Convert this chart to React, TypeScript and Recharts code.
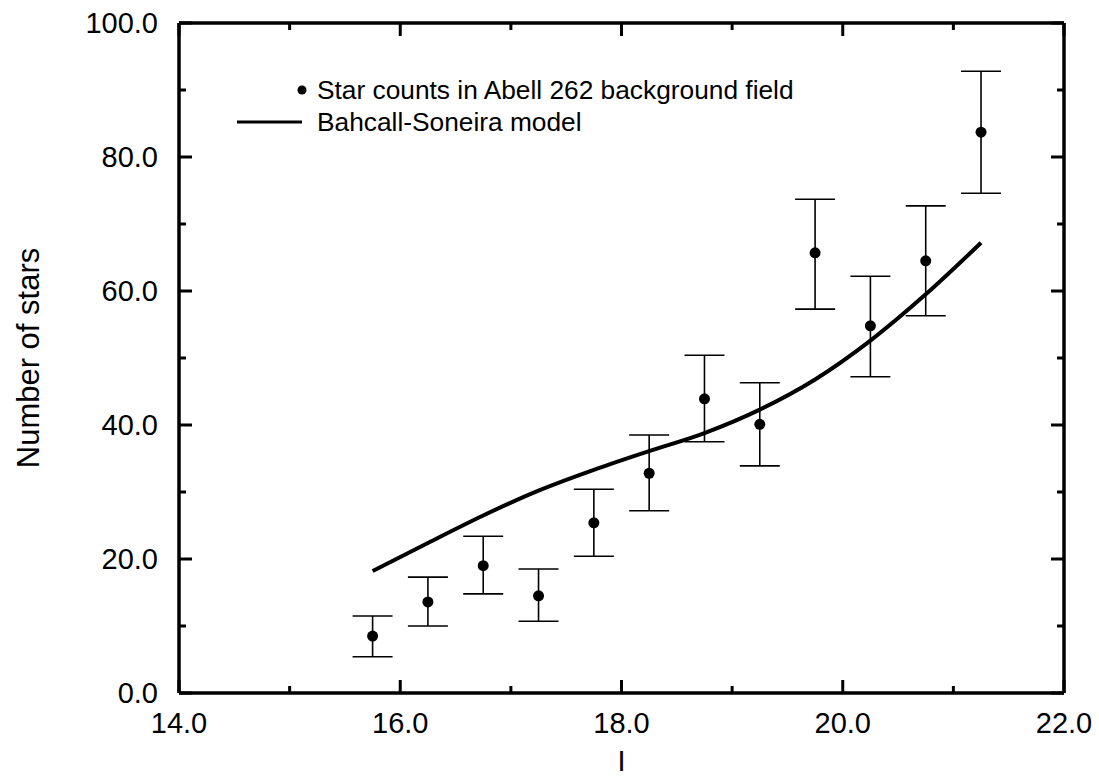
import React from "react";
import { ComposedChart, XAxis, YAxis, Scatter, Line, ErrorBar, Legend, Label } from "recharts";

const magnitudes = [15.75, 16.25, 16.75, 17.25, 17.75, 18.25, 18.75, 19.25, 19.75, 20.25, 20.75, 21.25];
const starCounts = [8.5, 13.6, 19.0, 14.5, 25.4, 32.8, 43.9, 40.1, 65.7, 54.8, 64.5, 83.7];
const countLow = [5.4, 10.0, 14.8, 10.7, 20.4, 27.2, 37.5, 33.9, 57.3, 47.2, 56.3, 74.6];
const countHigh = [11.5, 17.3, 23.4, 18.5, 30.4, 38.5, 50.4, 46.3, 73.7, 62.2, 72.7, 92.8];
const modelCounts = [18.2, 22.4, 26.5, 30.2, 33.3, 36.1, 38.8, 42.3, 46.8, 52.6, 59.5, 67.2];

const xTicks = [14, 15, 16, 17, 18, 19, 20, 21, 22];
const yTicks = [0, 10, 20, 30, 40, 50, 60, 70, 80, 90, 100];

const FONT = "'Liberation Sans', Arial, Helvetica, sans-serif";
const MAJOR = 13;
const MINOR = 7;

const stars = magnitudes.map(( mag, i ) => ({
    mag,
    count: starCounts[i],
    err: [ starCounts[i] - countLow[i], countHigh[i] - starCounts[i] ]
}));

const model = magnitudes.map(( mag, i ) => ({ mag, model: modelCounts[i] }));

// ticks point into the plot, labels only on the even values
const bottomTick = ( { x, y, payload } ) => {
    const major = payload.value % 2 === 0;
    return (
      <g>
          <line x1={x} x2={x} y1={y} y2={y - (major ? MAJOR : MINOR)} stroke="#000" strokeWidth={3}/>
          {major && (
            <text x={x} y={y + 30} textAnchor="middle" dominantBaseline="central" fontSize={29} fontFamily={FONT} fill="#000">
                {payload.value.toFixed(1)}
            </text>
          )}
      </g>
    );
};

const topTick = ( { x, y, payload } ) => {
    const major = payload.value % 2 === 0;
    return <line x1={x} x2={x} y1={y} y2={y + (major ? MAJOR : MINOR)} stroke="#000" strokeWidth={3}/>;
};

const leftTick = ( { x, y, payload } ) => {
    const major = payload.value % 20 === 0;
    return (
      <g>
          <line x1={x} x2={x + (major ? MAJOR : MINOR)} y1={y} y2={y} stroke="#000" strokeWidth={3}/>
          {major && (
            <text x={x - 21} y={y} textAnchor="end" dominantBaseline="central" fontSize={29} fontFamily={FONT} fill="#000">
                {payload.value.toFixed(1)}
            </text>
          )}
      </g>
    );
};

const rightTick = ( { x, y, payload } ) => {
    const major = payload.value % 20 === 0;
    return <line x1={x} x2={x - (major ? MAJOR : MINOR)} y1={y} y2={y} stroke="#000" strokeWidth={3}/>;
};

const yLabel = ( { viewBox } ) => {
    const cx = viewBox.x + 28;
    const cy = viewBox.y + viewBox.height / 2;
    return (
      <text x={cx} y={cy} transform={`rotate(-90 ${cx} ${cy})`} textAnchor="middle" dominantBaseline="central"
            fontSize={31} fontFamily={FONT} fill="#000">
          Number of stars
      </text>
    );
};

const xLabel = ( { viewBox } ) => (
  <text x={viewBox.x + viewBox.width / 2} y={viewBox.y + 68} textAnchor="middle" dominantBaseline="central"
        fontSize={29} fontFamily={FONT} fill="#000">
      I
  </text>
);

const legendContent = () => (
  <svg width={620} height={70} style={{ display: "block" }}>
      <circle cx={72} cy={20} r={4.5} fill="#000"/>
      <text x={87} y={20} dominantBaseline="central" fontSize={26.3} fontFamily={FONT} fill="#000">
          Star counts in Abell 262 background field
      </text>
      <line x1={7} x2={72} y1={52} y2={52} stroke="#000" strokeWidth={3}/>
      <text x={87} y={52} dominantBaseline="central" fontSize={26.3} fontFamily={FONT} fill="#000">
          Bahcall-Soneira model
      </text>
  </svg>
);

const dot = ( { cx, cy } ) => <circle cx={cx} cy={cy} r={5.5} fill="#000"/>;

export default function App() {
    return (
      <div style={{ position: "absolute", left: 0, top: 0, background: "#fff" }}>
          <ComposedChart width={1099} height={779} margin={{ top: 22, right: 34, bottom: 0, left: 0 }}>
              <XAxis xAxisId="bottom" dataKey="mag" type="number" domain={[ 14, 22 ]} ticks={xTicks}
                     allowDataOverflow height={86} tickSize={0} tickMargin={0} tickLine={false}
                     axisLine={{ stroke: "#000", strokeWidth: 3.5 }} tick={bottomTick} interval={0}>
                  <Label content={xLabel}/>
              </XAxis>
              <XAxis xAxisId="top" orientation="top" dataKey="mag" type="number" domain={[ 14, 22 ]} ticks={xTicks}
                     allowDataOverflow height={1} tickSize={0} tickMargin={0} tickLine={false}
                     axisLine={{ stroke: "#000", strokeWidth: 3.5 }} tick={topTick} interval={0}/>
              <YAxis yAxisId="left" type="number" domain={[ 0, 100 ]} ticks={yTicks} allowDataOverflow width={179}
                     tickSize={0} tickMargin={0} tickLine={false} axisLine={{ stroke: "#000", strokeWidth: 3.5 }}
                     tick={leftTick} interval={0}>
                  <Label content={yLabel}/>
              </YAxis>
              <YAxis yAxisId="right" orientation="right" type="number" domain={[ 0, 100 ]} ticks={yTicks}
                     allowDataOverflow width={1} tickSize={0} tickMargin={0} tickLine={false}
                     axisLine={{ stroke: "#000", strokeWidth: 3.5 }} tick={rightTick} interval={0}/>
              <Legend layout="vertical" align="center" verticalAlign="middle" content={legendContent}
                      wrapperStyle={{ left: 230, top: 70, width: 620, height: 70 }}/>
              <Line xAxisId="bottom" yAxisId="left" data={model} dataKey="model" type="monotone" stroke="#000"
                    strokeWidth={4} dot={false} activeDot={false} isAnimationActive={false}/>
              <Scatter xAxisId="bottom" yAxisId="left" data={stars} dataKey="count" shape={dot}
                       isAnimationActive={false}>
                  <ErrorBar dataKey="err" direction="y" width={20} stroke="#000" strokeWidth={1.6}
                            isAnimationActive={false}/>
              </Scatter>
          </ComposedChart>
      </div>
    );
}
